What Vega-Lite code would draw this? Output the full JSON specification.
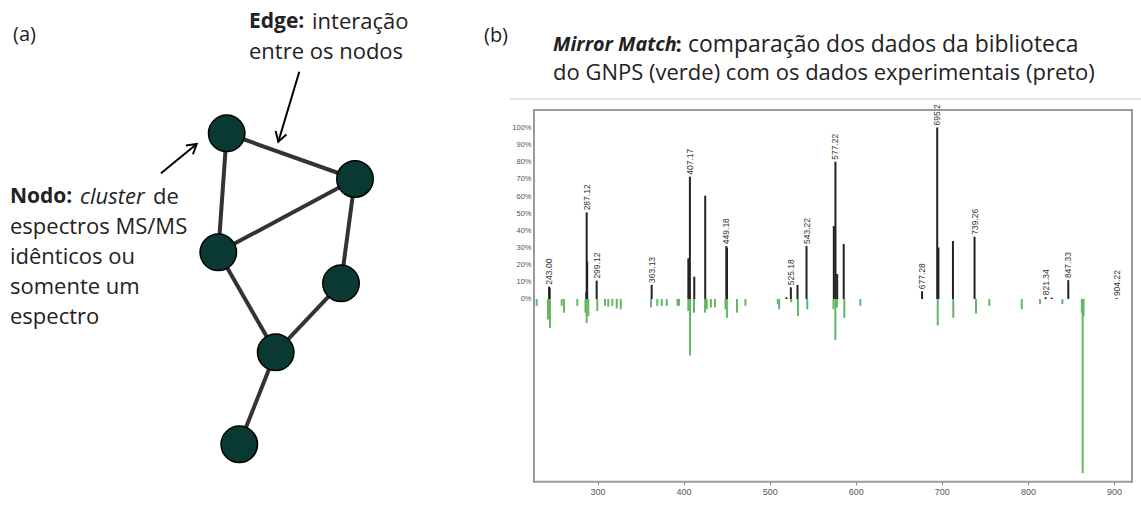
{
  "$schema": "https://vega.github.io/schema/vega-lite/v6.json",
  "padding": 0,
  "bounds": "flush",
  "spacing": 54,
  "background": "white",
  "config": {"view": {"stroke": null}, "font": "Open Sans"},
  "datasets": {
    "nodes": [
      {"id": "N1", "x": 22.67, "y": 13.33},
      {"id": "N2", "x": 35.5, "y": 17.9},
      {"id": "N3", "x": 21.83, "y": 25.23},
      {"id": "N4", "x": 34.1, "y": 28.33},
      {"id": "N5", "x": 27.57, "y": 35.23},
      {"id": "N6", "x": 23.93, "y": 44.43}
    ],
    "edges": [
      {"source": "N1", "target": "N2"},
      {"source": "N1", "target": "N3"},
      {"source": "N2", "target": "N3"},
      {"source": "N2", "target": "N4"},
      {"source": "N3", "target": "N5"},
      {"source": "N4", "target": "N5"},
      {"source": "N5", "target": "N6"}
    ],
    "arrows": [
      {"arrow": "edge", "x0": 29.93, "y0": 7.17, "x1": 27.83, "y1": 14.17},
      {"arrow": "nodo", "x0": 16.1, "y0": 17.33, "x1": 19.67, "y1": 14.4}
    ],
    "textA": [
      {"text": "(a)", "x": 1.3, "y": 3.5, "style": "label"},
      {"text": "Edge:", "x": 24.9, "y": 2.17, "style": "bold"},
      {"text": "interação", "x": 31.2, "y": 2.17, "style": "normal"},
      {"text": "entre os nodos", "x": 24.9, "y": 5.2, "style": "normal"},
      {"text": "Nodo:", "x": 1.0, "y": 19.7, "style": "bold"},
      {"text": "cluster", "x": 8.0, "y": 19.7, "style": "italic"},
      {"text": "de", "x": 15.3, "y": 19.7, "style": "normal"},
      {"text": "espectros MS/MS", "x": 1.0, "y": 22.7, "style": "normal"},
      {"text": "idênticos ou", "x": 1.0, "y": 25.7, "style": "normal"},
      {"text": "somente um", "x": 1.0, "y": 28.7, "style": "normal"},
      {"text": "espectro", "x": 1.0, "y": 31.7, "style": "normal"}
    ],
    "frame": [
      {"side": "top", "x": 226.2, "x2": 920.9, "y": 110.2, "y2": 110.2},
      {"side": "bottom", "x": 226.2, "x2": 920.9, "y": -106.5, "y2": -106.5},
      {"side": "left", "x": 226.2, "x2": 226.2, "y": 110.2, "y2": -106.5},
      {"side": "right", "x": 920.9, "x2": 920.9, "y": 110.2, "y2": -106.5}
    ],
    "lib": [
      {"mz": 229.3, "intensity": -4}, {"mz": 242.5, "intensity": -12}, {"mz": 244.8, "intensity": -17},
      {"mz": 258.4, "intensity": -4}, {"mz": 261.1, "intensity": -8}, {"mz": 276.5, "intensity": -4},
      {"mz": 286.0, "intensity": -8}, {"mz": 287.4, "intensity": -14}, {"mz": 289.3, "intensity": -10},
      {"mz": 299.7, "intensity": -7}, {"mz": 308.7, "intensity": -4}, {"mz": 312.5, "intensity": -4.5},
      {"mz": 317.2, "intensity": -4}, {"mz": 322.3, "intensity": -5.5}, {"mz": 326.9, "intensity": -6},
      {"mz": 362.1, "intensity": -5}, {"mz": 369.4, "intensity": -4}, {"mz": 374.6, "intensity": -4},
      {"mz": 380.4, "intensity": -4}, {"mz": 392.9, "intensity": -4}, {"mz": 394.6, "intensity": -4},
      {"mz": 405.5, "intensity": -7}, {"mz": 407.4, "intensity": -33}, {"mz": 412.1, "intensity": -8},
      {"mz": 424.9, "intensity": -8}, {"mz": 426.8, "intensity": -6}, {"mz": 431.7, "intensity": -5},
      {"mz": 436.4, "intensity": -5}, {"mz": 448.7, "intensity": -6}, {"mz": 450.3, "intensity": -11},
      {"mz": 462.0, "intensity": -8}, {"mz": 471.8, "intensity": -4}, {"mz": 509.4, "intensity": -3},
      {"mz": 511.0, "intensity": -6}, {"mz": 525.0, "intensity": -2}, {"mz": 532.9, "intensity": -10},
      {"mz": 543.7, "intensity": -6}, {"mz": 574.1, "intensity": -6}, {"mz": 576.3, "intensity": -24},
      {"mz": 578.2, "intensity": -5}, {"mz": 586.7, "intensity": -11}, {"mz": 605.3, "intensity": -4},
      {"mz": 695.2, "intensity": -15.5}, {"mz": 713.3, "intensity": -11}, {"mz": 739.7, "intensity": -8.5},
      {"mz": 755.1, "intensity": -4}, {"mz": 792.8, "intensity": -6}, {"mz": 814.0, "intensity": -3},
      {"mz": 840.0, "intensity": -3}, {"mz": 862.6, "intensity": -8}, {"mz": 863.6, "intensity": -101.5},
      {"mz": 864.6, "intensity": -10}
    ],
    "exp": [
      {"mz": 243.8, "intensity": 7.2, "label": "243.00"}, {"mz": 244.4, "intensity": 6.5},
      {"mz": 287.0, "intensity": 4}, {"mz": 287.4, "intensity": 50.5, "label": "287.12"},
      {"mz": 288.0, "intensity": 21.8}, {"mz": 299.0, "intensity": 10.7, "label": "299.12"},
      {"mz": 362.9, "intensity": 8.2, "label": "363.13"}, {"mz": 405.5, "intensity": 23.7},
      {"mz": 407.3, "intensity": 71.3, "label": "407.17"}, {"mz": 412.4, "intensity": 13},
      {"mz": 425.1, "intensity": 60.2}, {"mz": 449.6, "intensity": 30.8, "label": "449.18"},
      {"mz": 450.4, "intensity": 30}, {"mz": 519.5, "intensity": 1},
      {"mz": 524.6, "intensity": 6.8, "label": "525.18"}, {"mz": 532.3, "intensity": 8.2},
      {"mz": 542.8, "intensity": 30.9, "label": "543.22"}, {"mz": 574.5, "intensity": 42.6},
      {"mz": 576.4, "intensity": 80, "label": "577.22"}, {"mz": 578.4, "intensity": 14.6},
      {"mz": 586.0, "intensity": 32}, {"mz": 677.0, "intensity": 4.5, "label": "677.28"},
      {"mz": 694.6, "intensity": 100, "label": "695.2"}, {"mz": 696.0, "intensity": 30},
      {"mz": 712.9, "intensity": 33.8}, {"mz": 738.0, "intensity": 36.3, "label": "739.26"},
      {"mz": 820.5, "intensity": 1, "label": "821.34"}, {"mz": 827.5, "intensity": 0.8},
      {"mz": 846.9, "intensity": 11, "label": "847.33"}, {"mz": 903.1, "intensity": 0.5, "label": "904.22"}
    ],
    "titleB": [
      {"text": "(b)", "x": 168.1, "y": 153.4, "style": "label"},
      {"text": "Mirror Match", "x": 248.3, "y": 148.1, "style": "bolditalic"},
      {"text": ":", "x": 390.5, "y": 148.1, "style": "bold"},
      {"text": "comparação dos dados da biblioteca", "x": 405.1, "y": 148.1, "style": "normal1"},
      {"text": "do GNPS (verde) com os dados experimentais (preto)", "x": 248.3, "y": 131.8, "style": "normal"}
    ]
  },
  "hconcat": [
    {
      "width": 480,
      "height": 511,
      "layer": [
        {
          "data": {"name": "edges"},
          "transform": [
            {"lookup": "source", "from": {"data": {"name": "nodes"}, "key": "id", "fields": ["x", "y"]}, "as": ["sx", "sy"]},
            {"lookup": "target", "from": {"data": {"name": "nodes"}, "key": "id", "fields": ["x", "y"]}, "as": ["tx", "ty"]}
          ],
          "mark": {"type": "rule", "strokeWidth": 4, "color": "#333333"},
          "encoding": {
            "x": {"field": "sx", "type": "quantitative", "scale": {"domain": [0, 48], "nice": false, "zero": false}, "axis": null},
            "y": {"field": "sy", "type": "quantitative", "scale": {"domain": [0, 51.1], "nice": false, "zero": false, "reverse": true}, "axis": null},
            "x2": {"field": "tx"},
            "y2": {"field": "ty"}
          }
        },
        {
          "data": {"name": "nodes"},
          "mark": {"type": "circle", "size": 1330, "fill": "#0a3833", "stroke": "#000000", "strokeWidth": 1.5, "opacity": 1},
          "encoding": {
            "x": {"field": "x", "type": "quantitative", "scale": {"domain": [0, 48], "nice": false, "zero": false}, "axis": null},
            "y": {"field": "y", "type": "quantitative", "scale": {"domain": [0, 51.1], "nice": false, "zero": false, "reverse": true}, "axis": null}
          }
        },
        {
          "data": {"name": "arrows"},
          "mark": {"type": "rule", "strokeWidth": 2, "color": "#000000"},
          "encoding": {
            "x": {"field": "x0", "type": "quantitative", "scale": {"domain": [0, 48], "nice": false, "zero": false}, "axis": null},
            "y": {"field": "y0", "type": "quantitative", "scale": {"domain": [0, 51.1], "nice": false, "zero": false, "reverse": true}, "axis": null},
            "x2": {"field": "x1"},
            "y2": {"field": "y1"}
          }
        },
        {
          "data": {"name": "arrows"},
          "transform": [{"filter": "datum.arrow === 'edge'"}],
          "mark": {"type": "point", "shape": "M-0.6,1L0,0L0.6,1", "filled": false, "angle": 197, "size": 350, "stroke": "#000000", "strokeWidth": 2, "opacity": 1},
          "encoding": {
            "x": {"field": "x1", "type": "quantitative", "scale": {"domain": [0, 48], "nice": false, "zero": false}, "axis": null},
            "y": {"field": "y1", "type": "quantitative", "scale": {"domain": [0, 51.1], "nice": false, "zero": false, "reverse": true}, "axis": null}
          }
        },
        {
          "data": {"name": "arrows"},
          "transform": [{"filter": "datum.arrow === 'nodo'"}],
          "mark": {"type": "point", "shape": "M-0.6,1L0,0L0.6,1", "filled": false, "angle": 51, "size": 350, "stroke": "#000000", "strokeWidth": 2, "opacity": 1},
          "encoding": {
            "x": {"field": "x1", "type": "quantitative", "scale": {"domain": [0, 48], "nice": false, "zero": false}, "axis": null},
            "y": {"field": "y1", "type": "quantitative", "scale": {"domain": [0, 51.1], "nice": false, "zero": false, "reverse": true}, "axis": null}
          }
        },
        {
          "data": {"name": "textA"},
          "transform": [{"filter": "datum.style === 'normal'"}],
          "mark": {"type": "text", "align": "left", "baseline": "middle", "fontSize": 22, "font": "Open Sans", "color": "#222222"},
          "encoding": {
            "x": {"field": "x", "type": "quantitative", "scale": {"domain": [0, 48], "nice": false, "zero": false}, "axis": null},
            "y": {"field": "y", "type": "quantitative", "scale": {"domain": [0, 51.1], "nice": false, "zero": false, "reverse": true}, "axis": null},
            "text": {"field": "text"}
          }
        },
        {
          "data": {"name": "textA"},
          "transform": [{"filter": "datum.style === 'bold'"}],
          "mark": {"type": "text", "align": "left", "baseline": "middle", "fontSize": 21, "fontWeight": "bold", "font": "Open Sans", "color": "#222222"},
          "encoding": {
            "x": {"field": "x", "type": "quantitative", "scale": {"domain": [0, 48], "nice": false, "zero": false}, "axis": null},
            "y": {"field": "y", "type": "quantitative", "scale": {"domain": [0, 51.1], "nice": false, "zero": false, "reverse": true}, "axis": null},
            "text": {"field": "text"}
          }
        },
        {
          "data": {"name": "textA"},
          "transform": [{"filter": "datum.style === 'italic'"}],
          "mark": {"type": "text", "align": "left", "baseline": "middle", "fontSize": 22, "fontStyle": "italic", "font": "Open Sans", "color": "#222222"},
          "encoding": {
            "x": {"field": "x", "type": "quantitative", "scale": {"domain": [0, 48], "nice": false, "zero": false}, "axis": null},
            "y": {"field": "y", "type": "quantitative", "scale": {"domain": [0, 51.1], "nice": false, "zero": false, "reverse": true}, "axis": null},
            "text": {"field": "text"}
          }
        },
        {
          "data": {"name": "textA"},
          "transform": [{"filter": "datum.style === 'label'"}],
          "mark": {"type": "text", "align": "left", "baseline": "middle", "fontSize": 20, "font": "Open Sans", "color": "#222222"},
          "encoding": {
            "x": {"field": "x", "type": "quantitative", "scale": {"domain": [0, 48], "nice": false, "zero": false}, "axis": null},
            "y": {"field": "y", "type": "quantitative", "scale": {"domain": [0, 51.1], "nice": false, "zero": false, "reverse": true}, "axis": null},
            "text": {"field": "text"}
          }
        }
      ]
    },
    {
      "width": 598,
      "height": 482,
      "layer": [
        {
          "data": {"name": "lib"},
          "mark": {"type": "rule", "strokeWidth": 2, "color": "#62b862"},
          "encoding": {
            "x": {"field": "mz", "type": "quantitative", "title": null,
                  "scale": {"domain": [226.2, 920.9], "nice": false, "zero": false},
                  "axis": {"values": [300, 400, 500, 600, 700, 800, 900], "format": "d", "domain": false, "grid": false, "ticks": true, "tickSize": 3, "tickColor": "#888888", "labelFontSize": 9, "labelColor": "#555555", "labelFont": "Liberation Sans", "labelPadding": 2, "title": null}},
            "y": {"field": "intensity", "type": "quantitative", "title": null,
                  "scale": {"domain": [-106.7, 174.3], "nice": false, "zero": false},
                  "axis": {"values": [0, 10, 20, 30, 40, 50, 60, 70, 80, 90, 100], "labelExpr": "datum.value + '%'", "domain": false, "grid": false, "ticks": false, "labelFontSize": 7.5, "labelColor": "#555555", "labelFont": "Liberation Sans", "labelPadding": 3, "title": null}},
            "y2": {"datum": 0}
          }
        },
        {
          "data": {"name": "exp"},
          "mark": {"type": "rule", "strokeWidth": 2, "color": "#222222"},
          "encoding": {
            "x": {"field": "mz", "type": "quantitative", "title": null, "scale": {"domain": [226.2, 920.9], "nice": false, "zero": false}},
            "y": {"field": "intensity", "type": "quantitative", "title": null, "scale": {"domain": [-106.7, 174.3], "nice": false, "zero": false}},
            "y2": {"datum": 0}
          }
        },
        {
          "data": {"name": "exp"},
          "transform": [{"filter": "datum.label != null"}],
          "mark": {"type": "text", "angle": 270, "align": "left", "baseline": "middle", "dx": 2, "fontSize": 8.5, "font": "Liberation Sans", "color": "#333333"},
          "encoding": {
            "x": {"field": "mz", "type": "quantitative", "title": null, "scale": {"domain": [226.2, 920.9], "nice": false, "zero": false}},
            "y": {"field": "intensity", "type": "quantitative", "title": null, "scale": {"domain": [-106.7, 174.3], "nice": false, "zero": false}},
            "text": {"field": "label"}
          }
        },
        {
          "data": {"name": "frame"},
          "mark": {"type": "rule", "stroke": "#9a9a9a", "strokeWidth": 2, "strokeCap": "square"},
          "encoding": {
            "x": {"field": "x", "type": "quantitative", "title": null, "scale": {"domain": [226.2, 920.9], "nice": false, "zero": false}},
            "x2": {"field": "x2"},
            "y": {"field": "y", "type": "quantitative", "title": null, "scale": {"domain": [-106.7, 174.3], "nice": false, "zero": false}},
            "y2": {"field": "y2"}
          }
        },
        {
          "data": {"values": [{}]},
          "mark": {"type": "rule", "stroke": "#e2e2e2", "strokeWidth": 2},
          "encoding": {
            "x": {"datum": 198.3, "type": "quantitative", "title": null, "scale": {"domain": [226.2, 920.9], "nice": false, "zero": false}},
            "x2": {"datum": 931.4},
            "y": {"datum": 116.6, "type": "quantitative", "title": null, "scale": {"domain": [-106.7, 174.3], "nice": false, "zero": false}}
          }
        },
        {
          "data": {"name": "titleB"},
          "transform": [{"filter": "datum.style === 'normal'"}],
          "mark": {"type": "text", "align": "left", "baseline": "middle", "fontSize": 22, "font": "Open Sans", "color": "#222222"},
          "encoding": {
            "x": {"field": "x", "type": "quantitative", "title": null, "scale": {"domain": [226.2, 920.9], "nice": false, "zero": false}},
            "y": {"field": "y", "type": "quantitative", "title": null, "scale": {"domain": [-106.7, 174.3], "nice": false, "zero": false}},
            "text": {"field": "text"}
          }
        },
        {
          "data": {"name": "titleB"},
          "transform": [{"filter": "datum.style === 'normal1'"}],
          "mark": {"type": "text", "align": "left", "baseline": "middle", "fontSize": 22.9, "font": "Open Sans", "color": "#222222"},
          "encoding": {
            "x": {"field": "x", "type": "quantitative", "title": null, "scale": {"domain": [226.2, 920.9], "nice": false, "zero": false}},
            "y": {"field": "y", "type": "quantitative", "title": null, "scale": {"domain": [-106.7, 174.3], "nice": false, "zero": false}},
            "text": {"field": "text"}
          }
        },
        {
          "data": {"name": "titleB"},
          "transform": [{"filter": "datum.style === 'bold'"}],
          "mark": {"type": "text", "align": "left", "baseline": "middle", "fontSize": 22, "fontWeight": "bold", "font": "Open Sans", "color": "#222222"},
          "encoding": {
            "x": {"field": "x", "type": "quantitative", "title": null, "scale": {"domain": [226.2, 920.9], "nice": false, "zero": false}},
            "y": {"field": "y", "type": "quantitative", "title": null, "scale": {"domain": [-106.7, 174.3], "nice": false, "zero": false}},
            "text": {"field": "text"}
          }
        },
        {
          "data": {"name": "titleB"},
          "transform": [{"filter": "datum.style === 'bolditalic'"}],
          "mark": {"type": "text", "align": "left", "baseline": "middle", "fontSize": 19.8, "fontWeight": "bold", "fontStyle": "italic", "font": "Open Sans", "color": "#222222"},
          "encoding": {
            "x": {"field": "x", "type": "quantitative", "title": null, "scale": {"domain": [226.2, 920.9], "nice": false, "zero": false}},
            "y": {"field": "y", "type": "quantitative", "title": null, "scale": {"domain": [-106.7, 174.3], "nice": false, "zero": false}},
            "text": {"field": "text"}
          }
        },
        {
          "data": {"name": "titleB"},
          "transform": [{"filter": "datum.style === 'label'"}],
          "mark": {"type": "text", "align": "left", "baseline": "middle", "fontSize": 20, "font": "Open Sans", "color": "#222222"},
          "encoding": {
            "x": {"field": "x", "type": "quantitative", "title": null, "scale": {"domain": [226.2, 920.9], "nice": false, "zero": false}},
            "y": {"field": "y", "type": "quantitative", "title": null, "scale": {"domain": [-106.7, 174.3], "nice": false, "zero": false}},
            "text": {"field": "text"}
          }
        }
      ]
    }
  ]
}
